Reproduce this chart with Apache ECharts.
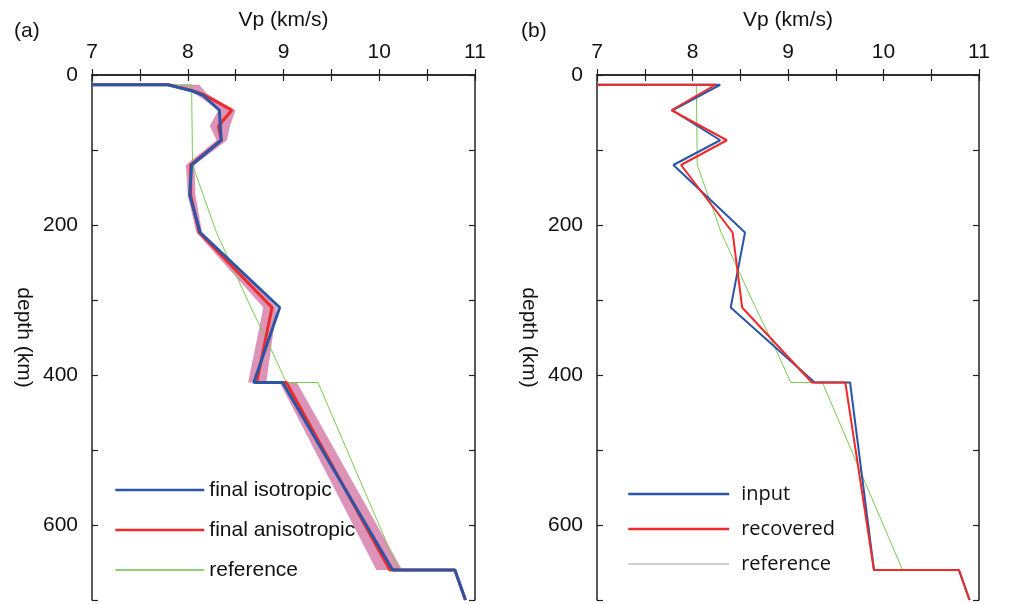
<!DOCTYPE html>
<html>
<head>
<meta charset="utf-8">
<script src="https://cdn.jsdelivr.net/npm/echarts@6/dist/echarts.min.js"></script>
<style>
  html, body { margin: 0; padding: 0; background: #fff; }
  #eChart { width: 1014px; height: 604px; }
</style>
</head>
<body>
<div id="eChart"></div>
<script>
// tick labels
const vpLabels = [7, 8, 9, 10, 11];
const depthLabels = [0, 200, 400, 600];

// reference model (same in both panels)
const refDepth = [13, 13, 120, 165, 210, 260, 310, 360, 410, 410, 660, 660, 700];
const refVp = [7, 8.04, 8.05, 8.175, 8.3, 8.48, 8.66, 8.85, 9.03, 9.36, 10.2, 10.79, 10.91];

// panel (a)
const finalDepth = [13, 13, 21, 27, 47, 68, 87, 120, 160, 210, 310, 410, 410, 660, 660, 700];
const isoVp = [7, 7.79, 8.04, 8.16, 8.33, 8.34, 8.35, 8.04, 8.02, 8.13, 8.96, 8.69, 8.99, 10.14, 10.79, 10.9];
const anisoVp = [7, 7.8, 8.05, 8.18, 8.46, 8.32, 8.35, 8.03, 8.03, 8.12, 8.88, 8.72, 9.03, 10.11, 10.79, 10.9];
const bandDepth = [13, 25, 47, 68, 87, 120, 160, 210, 310, 410, 410, 660];
const bandLow = [7.9, 8.08, 8.32, 8.23, 8.3, 7.98, 8.0, 8.09, 8.79, 8.63, 8.96, 9.97];
const bandHigh = [8.12, 8.2, 8.5, 8.44, 8.41, 8.07, 8.08, 8.15, 8.93, 8.82, 9.14, 10.24];

// panel (b)
const testDepth = [13, 13, 47, 87, 120, 210, 310, 410, 410, 660, 660, 700];
const inputVp = [7, 8.29, 7.79, 8.29, 7.8, 8.55, 8.4, 9.28, 9.65, 9.9, 10.79, 10.9];
const recoveredVp = [7, 8.24, 7.78, 8.36, 7.88, 8.42, 8.52, 9.25, 9.6, 9.9, 10.79, 10.9];

const BLUE = "#2b55a5";
const RED = "#ee2b2b";
const GREEN = "#7cc855";
const FONT = "Liberation Sans";

const pairs = (vp, depth) => vp.map((v, i) => [v, depth[i]]);

const axisLine = { lineStyle: { color: "#222", width: 1.5 } };
const axisTick = { inside: true, length: 6, lineStyle: { color: "#222", width: 1.2 } };
const labelText = { fontFamily: FONT, fontSize: 21, color: "#111" };

function makeAxes(gridIndex) {
  const xAxes = [
    {
      gridIndex,
      type: "value",
      position: "top",
      min: 7,
      max: 11,
      interval: 0.5,
      name: "Vp (km/s)",
      nameLocation: "middle",
      nameGap: 44,
      nameTextStyle: labelText,
      axisLine,
      axisTick,
      axisLabel: {
        ...labelText,
        margin: 12,
        formatter: (v) => (vpLabels.includes(v) ? String(v) : ""),
      },
      splitLine: { show: false },
    },
    {
      gridIndex,
      type: "value",
      position: "bottom",
      min: 7,
      max: 11,
      interval: 0.5,
      axisLine,
      axisTick,
      axisLabel: { show: false },
      splitLine: { show: false },
    },
  ];
  const yAxes = [
    {
      gridIndex,
      type: "value",
      position: "left",
      inverse: true,
      min: 0,
      max: 700,
      interval: 100,
      name: "depth (km)",
      nameLocation: "middle",
      nameRotate: -90,
      nameGap: 58,
      nameTextStyle: labelText,
      axisLine,
      axisTick,
      axisLabel: {
        ...labelText,
        margin: 14,
        formatter: (v) => (depthLabels.includes(v) ? String(v) : ""),
      },
      splitLine: { show: false },
    },
    {
      gridIndex,
      type: "value",
      position: "right",
      inverse: true,
      min: 0,
      max: 700,
      interval: 100,
      axisLine,
      axisTick,
      axisLabel: { show: false },
      splitLine: { show: false },
    },
  ];
  return { xAxes, yAxes };
}

const axesA = makeAxes(0);
const axesB = makeAxes(1);

const lineSerie = (name, data, color, width, axisIndex) => ({
  name,
  type: "line",
  xAxisIndex: axisIndex,
  yAxisIndex: axisIndex,
  data,
  symbol: "none",
  showSymbol: false,
  lineStyle: { color, width },
  itemStyle: { color },
  silent: true,
});

const legendItem = (name, width, color) => ({ name, lineStyle: color ? { width, color } : { width } });

const option = {
  animation: false,
  backgroundColor: "#fff",
  title: [
    { text: "(a)", left: 14, top: 21, padding: 0, textStyle: { ...labelText, fontWeight: "normal" } },
    { text: "(b)", left: 521, top: 21, padding: 0, textStyle: { ...labelText, fontWeight: "normal" } },
  ],
  grid: [
    { left: 92, top: 75, width: 383, height: 525 },
    { left: 597, top: 75, width: 382, height: 525 },
  ],
  xAxis: [...axesA.xAxes, ...axesB.xAxes],
  yAxis: [...axesA.yAxes, ...axesB.yAxes],
  legend: [
    {
      data: [
        legendItem("final isotropic", 2.6),
        legendItem("final anisotropic", 2.6),
        legendItem("reference", 1.3, "#6cc040"),
      ],
      orient: "vertical",
      left: 114,
      top: 479.5,
      padding: 0,
      itemWidth: 89,
      itemHeight: 20,
      itemGap: 19,
      selectedMode: false,
      itemStyle: { opacity: 0 },
      textStyle: { ...labelText },
    },
    {
      data: [
        legendItem("input", 2.4),
        legendItem("recovered", 2.4),
        legendItem("reference", 1.2, "#a0a0a0"),
      ],
      orient: "vertical",
      left: 627,
      top: 484,
      padding: 0,
      itemWidth: 101,
      itemHeight: 20,
      itemGap: 15,
      selectedMode: false,
      itemStyle: { opacity: 0 },
      textStyle: { fontFamily: "Open Sans", fontSize: 20, color: "#111", padding: [0, 0, 0, 7] },
    },
  ],
  series: [
    {
      type: "custom",
      name: "band",
      xAxisIndex: 0,
      yAxisIndex: 0,
      silent: true,
      data: [[bandLow[0], bandDepth[0]]],
      renderItem: (params, api) => {
        const pts = [];
        bandDepth.forEach((d, i) => pts.push(api.coord([bandLow[i], d])));
        for (let i = bandDepth.length - 1; i >= 0; i--) {
          pts.push(api.coord([bandHigh[i], bandDepth[i]]));
        }
        return {
          type: "polygon",
          shape: { points: pts },
          style: { fill: "rgba(200,80,140,0.62)" },
        };
      },
    },
    lineSerie("reference", pairs(refVp, refDepth), GREEN, 1, 0),
    lineSerie("final anisotropic", pairs(anisoVp, finalDepth), RED, 3, 0),
    lineSerie("final isotropic", pairs(isoVp, finalDepth), BLUE, 3, 0),
    lineSerie("reference", pairs(refVp, refDepth), GREEN, 1, 2),
    lineSerie("input", pairs(inputVp, testDepth), BLUE, 2, 2),
    lineSerie("recovered", pairs(recoveredVp, testDepth), RED, 2, 2),
  ],
};

const myChart = echarts.init(document.getElementById("eChart"), null, { renderer: "canvas" });
myChart.setOption(option);
</script>
</body>
</html>
